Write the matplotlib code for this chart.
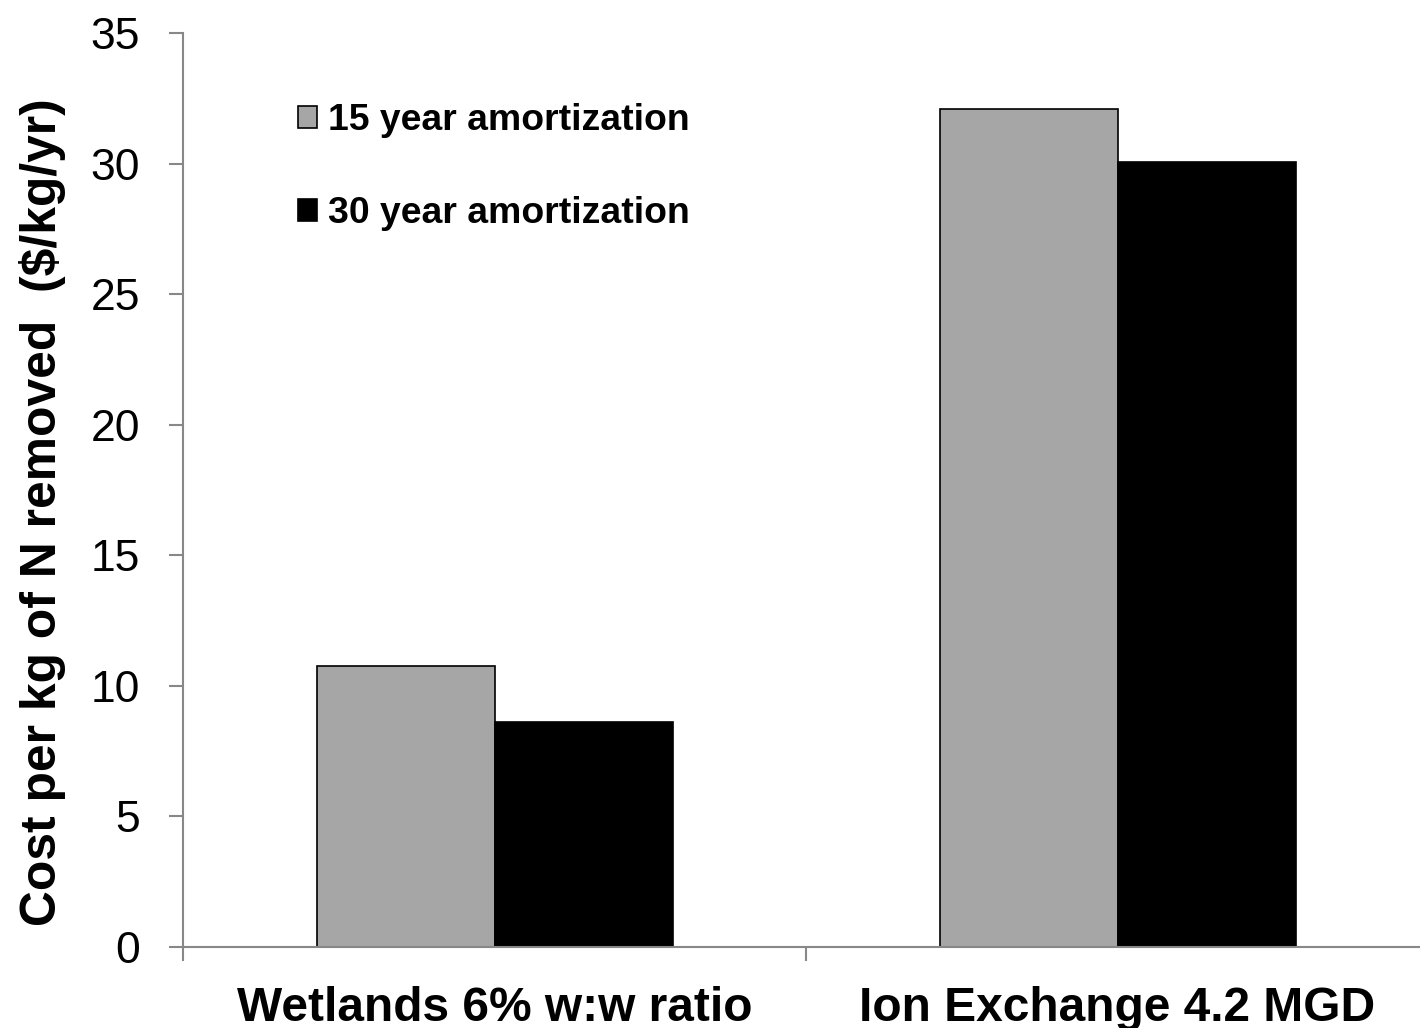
import matplotlib
matplotlib.use("Agg")
import matplotlib.pyplot as plt
import numpy as np

categories = ["Wetlands 6% w:w ratio", "Ion Exchange 4.2 MGD"]
series_names = ["15 year amortization", "30 year amortization"]
values_15 = [10.75, 32.1]
values_30 = [8.6, 30.05]
yticks = [0, 5, 10, 15, 20, 25, 30, 35]

plt.rcParams['font.family'] = ['Liberation Sans', 'DejaVu Sans']

fig = plt.figure(figsize=(14.2, 10.28), dpi=100)
ax = fig.add_axes([183/1420, 1-947/1028, 1246/1420, (947-33)/1028])

x = np.arange(len(categories))
w = 1/1.75/2
gray = '#A6A6A6'
ax.bar(x - w/2, values_15, w, color=gray, edgecolor='black', linewidth=1.2, label=series_names[0], zorder=2)
ax.bar(x + w/2, values_30, w, color='black', edgecolor='black', linewidth=1.2, label=series_names[1], zorder=2)

ax.set_xlim(-0.5, len(categories) - 0.5)
ax.set_ylim(0, 35)
ax.set_yticks(yticks)
ax.set_yticklabels([str(v) for v in yticks], fontsize=32)

axc = '#888888'
for s in ['top', 'right']:
    ax.spines[s].set_visible(False)
for s in ['left', 'bottom']:
    ax.spines[s].set_color(axc)
    ax.spines[s].set_linewidth(1.5)

ax.tick_params(axis='y', direction='out', length=10, width=1.5, color=axc, pad=21)
ax.set_xticks(x)
ax.set_xticklabels(categories, fontsize=34.5, fontweight='bold')
ax.tick_params(axis='x', which='major', length=0, pad=28)
ax.set_xticks(np.arange(-0.5, len(categories) + 0.5, 1), minor=True)
ax.tick_params(axis='x', which='minor', direction='out', length=10, width=1.5, color=axc)

ax.set_ylabel("Cost per kg of N removed  ($/kg/yr)", fontsize=35.8, fontweight='bold')
ax.yaxis.set_label_coords((66-183)/1246, (947-512)/914)

leg = ax.legend(loc='upper left', bbox_to_anchor=(0.0805, 0.9395), frameon=False,
                prop={'size': 26.9, 'weight': 'bold'}, handlelength=0.5, handleheight=0.5,
                handletextpad=0.3, labelspacing=1.55, borderaxespad=0)

fig.savefig("out.png", dpi=100)
